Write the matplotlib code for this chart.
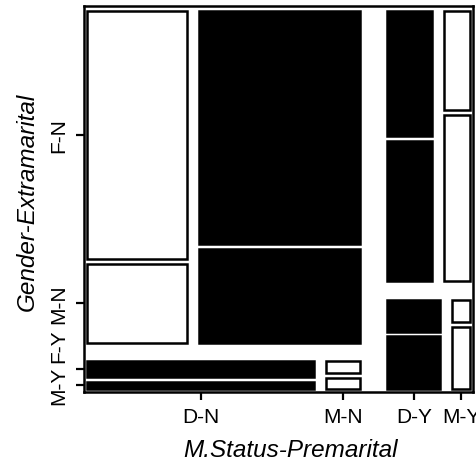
import numpy as np
import matplotlib.pyplot as plt
from matplotlib.patches import Rectangle
from matplotlib.transforms import ScaledTranslation

plt.rcParams['font.family'] = ['Liberation Sans', 'DejaVu Sans']

premarital = ['N', 'Y']
extramarital = ['N', 'Y']
status = ['D', 'M']
gender = ['F', 'M']

# counts indexed [premarital][extramarital][status]
female = np.array([[[214, 322], [36, 4]],
                   [[54, 25], [17, 4]]])
male = np.array([[[68, 130], [17, 4]],
                 [[60, 42], [28, 11]]])

# which (premarital, extramarital, status) cells are filled
dark = [[[False, True], [True, False]],
        [[True, False], [True, False]]]

# spacing for each split level, as a fraction of the full plot span
GAPS = [0.0705, 0.050, 0.031, 0.013]


def split(lo, hi, weights, gap):
    # left to right pieces proportional to weights
    w = np.asarray(weights, float)
    sizes = ((hi - lo) - gap * (len(w) - 1)) * w / w.sum()
    out, pos = [], lo
    for s in sizes:
        out.append((pos, pos + s))
        pos += s + gap
    return out


def split_down(lo, hi, weights, gap):
    # same, but the first piece sits on top
    w = np.asarray(weights, float)
    sizes = ((hi - lo) - gap * (len(w) - 1)) * w / w.sum()
    out, pos = [], hi
    for s in sizes:
        out.append((pos - s, pos))
        pos -= s + gap
    return out


fig = plt.figure(figsize=(4.76, 4.60), dpi=100)
ax = fig.add_axes([84 / 476, 67 / 460, 389 / 476, 386 / 460])

xticks, xlabels, yticks, ylabels = [], [], [], []
total = female + male
for i, (x0, x1) in enumerate(split(0, 1, total.sum(axis=(1, 2)), GAPS[0])):
    for j, (y0, y1) in enumerate(split_down(0, 1, total[i].sum(axis=1), GAPS[1])):
        for k, (a0, a1) in enumerate(split(x0, x1, total[i, j], GAPS[2])):
            fill = 'black' if dark[i][j][k] else 'white'
            rows = split_down(y0, y1, [female[i, j, k], male[i, j, k]], GAPS[3])
            for g, (b0, b1) in enumerate(rows):
                ax.add_patch(Rectangle((a0, b0), a1 - a0, b1 - b0,
                                       facecolor=fill, edgecolor='black',
                                       linewidth=1.8, joinstyle='miter'))
                if i == 0 and k == 0:
                    yticks.append((b0 + b1) / 2)
                    ylabels.append(f'{gender[g]}-{extramarital[j]}')
            if j == len(extramarital) - 1:
                xticks.append((a0 + a1) / 2)
                xlabels.append(f'{status[k]}-{premarital[i]}')

ax.set_xlim(-3 / 383, 386 / 383)
ax.set_ylim(-3 / 378, 1 + 5 / 378)

ax.set_xticks(xticks)
ax.set_xticklabels(xlabels, fontsize=15)
ax.set_yticks(yticks)
ax.set_yticklabels(ylabels, fontsize=15, rotation=90, va='center')
ax.tick_params(length=6, width=1.6, pad=5)

for sp in ax.spines.values():
    sp.set_linewidth(1.8)

ax.set_xlabel('M.Status-Premarital', fontsize=17.5, style='italic')
ax.set_ylabel('Gender-Extramarital', fontsize=17.5, style='italic')
ax.xaxis.set_label_coords(0.531, -0.118)
ax.yaxis.set_label_coords(-0.115, 0.495)

# push crowded y labels upward so they don't run into each other
fig.canvas.draw()
labs = sorted(ax.get_yticklabels(), key=lambda t: t.get_position()[1])
prev_top = None
for lab in labs:
    bb = lab.get_window_extent()
    shift = 0.0
    if prev_top is not None and bb.y0 < prev_top + 4:
        shift = prev_top + 4 - bb.y0
        lab.set_transform(lab.get_transform() +
                          ScaledTranslation(0, shift / fig.dpi, fig.dpi_scale_trans))
    prev_top = bb.y1 + shift

fig.savefig('out.png', dpi=100)
